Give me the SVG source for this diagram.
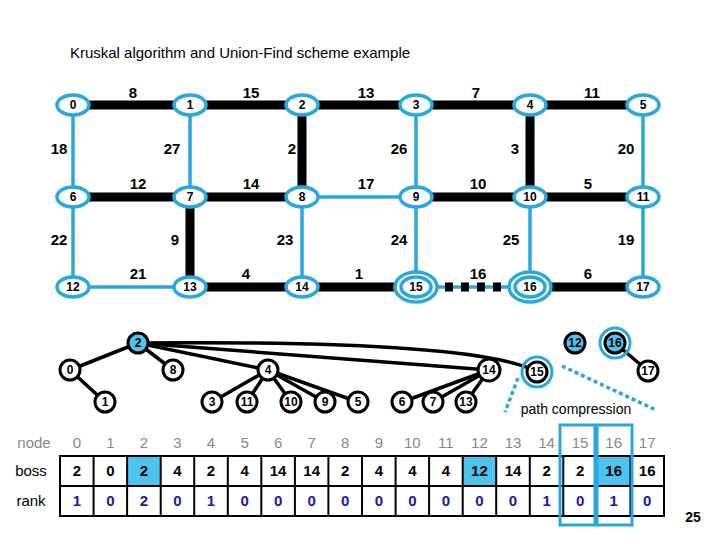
<svg xmlns="http://www.w3.org/2000/svg" width="720" height="540" viewBox="0 0 720 540">
<style>
text{font-family:"Liberation Sans",Arial,sans-serif;font-weight:bold;text-anchor:middle}
.gn{fill:#fff;stroke:#29a8df;stroke-width:3.5}
.gt{font-size:12px;fill:#000}
.w{font-size:15px;fill:#000}
.bk{stroke:#000;stroke-width:9;fill:none}
.bl{stroke:#29a8df;stroke-width:3.5;fill:none}
.tn{fill:#fff;stroke:#000;stroke-width:3}
.tt{font-size:12px}
.te{stroke:#000;stroke-width:3.5;fill:none}
.hd{font-size:15px;fill:#888;font-weight:normal}
.cell{fill:#fff;stroke:#000;stroke-width:2}
.bv{font-size:15px;fill:#000}
.rv{font-size:15px;fill:#1a1aa0}
</style>
<rect width="720" height="540" fill="#fff"/>
<text x="240" y="58" style="font-size:15px;font-weight:normal">Kruskal algorithm and Union-Find scheme example</text>
<g id="connectors">
<line class="bk" x1="73" y1="105" x2="190" y2="105"/>
<line class="bk" x1="190" y1="105" x2="302" y2="105"/>
<line class="bk" x1="302" y1="105" x2="416" y2="105"/>
<line class="bk" x1="416" y1="105" x2="530" y2="105"/>
<line class="bk" x1="530" y1="105" x2="643" y2="105"/>
<line class="bk" x1="302" y1="105" x2="302" y2="197"/>
<line class="bk" x1="530" y1="105" x2="530" y2="197"/>
<line class="bk" x1="73" y1="197" x2="190" y2="197"/>
<line class="bk" x1="190" y1="197" x2="302" y2="197"/>
<line class="bk" x1="416" y1="197" x2="530" y2="197"/>
<line class="bk" x1="530" y1="197" x2="643" y2="197"/>
<line class="bk" x1="190" y1="197" x2="190" y2="287"/>
<line class="bk" x1="190" y1="287" x2="302" y2="287"/>
<line class="bk" x1="302" y1="287" x2="416" y2="287"/>
<line class="bk" x1="530" y1="287" x2="643" y2="287"/>
<line class="bl" x1="73" y1="105" x2="73" y2="287"/>
<line class="bl" x1="190" y1="105" x2="190" y2="197"/>
<line class="bl" x1="416" y1="105" x2="416" y2="287"/>
<line class="bl" x1="643" y1="105" x2="643" y2="287"/>
<line class="bl" x1="302" y1="197" x2="416" y2="197"/>
<line class="bl" x1="302" y1="197" x2="302" y2="287"/>
<line class="bl" x1="530" y1="197" x2="530" y2="287"/>
<line class="bl" x1="73" y1="287" x2="190" y2="287"/>
<line class="bl" x1="416" y1="287" x2="530" y2="287"/>
<line x1="445" y1="287" x2="505" y2="287" stroke="#000" stroke-width="9" stroke-dasharray="8,8"/>
<line class="te" x1="138" y1="343" x2="70" y2="370"/>
<line class="te" x1="138" y1="343" x2="173" y2="370"/>
<line class="te" x1="70" y1="370" x2="105" y2="402"/>
<line class="te" x1="138" y1="343" x2="268" y2="370"/>
<line class="te" x1="138" y1="343" x2="489" y2="370"/>
<path class="te" d="M138 343 Q480 340 537 372"/>
<line class="te" x1="268" y1="370" x2="212" y2="402"/>
<line class="te" x1="268" y1="370" x2="247" y2="402"/>
<line class="te" x1="268" y1="370" x2="291" y2="402"/>
<line class="te" x1="268" y1="370" x2="325" y2="402"/>
<line class="te" x1="268" y1="370" x2="358" y2="402"/>
<line class="te" x1="489" y1="370" x2="402" y2="402"/>
<line class="te" x1="489" y1="370" x2="433" y2="402"/>
<line class="te" x1="489" y1="370" x2="466" y2="402"/>
<line class="te" x1="615" y1="343" x2="648" y2="371"/>
<line x1="518" y1="378" x2="505" y2="412" stroke="#29a8df" stroke-width="3.5" stroke-dasharray="4,3"/>
<line x1="562" y1="366" x2="656" y2="410" stroke="#29a8df" stroke-width="3.5" stroke-dasharray="4,3"/>
</g>
<g class="w">
<text class="w" x="133" y="98">8</text><text class="w" x="251" y="98">15</text><text class="w" x="366" y="98">13</text><text class="w" x="476" y="98">7</text><text class="w" x="592" y="98">11</text>
<text class="w" x="59" y="154">18</text><text class="w" x="172" y="154">27</text><text class="w" x="292" y="154">2</text><text class="w" x="399" y="154">26</text><text class="w" x="515" y="154">3</text><text class="w" x="626" y="154">20</text>
<text class="w" x="138" y="189">12</text><text class="w" x="251" y="189">14</text><text class="w" x="366" y="189">17</text><text class="w" x="478" y="189">10</text><text class="w" x="588" y="189">5</text>
<text class="w" x="59" y="245">22</text><text class="w" x="175" y="245">9</text><text class="w" x="285" y="245">23</text><text class="w" x="399" y="245">24</text><text class="w" x="511" y="245">25</text><text class="w" x="626" y="245">19</text>
<text class="w" x="138" y="279">21</text><text class="w" x="246" y="279">4</text><text class="w" x="359" y="279">1</text><text class="w" x="478" y="279">16</text><text class="w" x="588" y="279">6</text>
</g>
<g id="g0"><ellipse class="gn" cx="73" cy="105" rx="16" ry="10"/><text class="gt" x="73" y="109">0</text></g>
<g id="g1"><ellipse class="gn" cx="190" cy="105" rx="16" ry="10"/><text class="gt" x="190" y="109">1</text></g>
<g id="g2"><ellipse class="gn" cx="302" cy="105" rx="16" ry="10"/><text class="gt" x="302" y="109">2</text></g>
<g id="g3"><ellipse class="gn" cx="416" cy="105" rx="16" ry="10"/><text class="gt" x="416" y="109">3</text></g>
<g id="g4"><ellipse class="gn" cx="530" cy="105" rx="16" ry="10"/><text class="gt" x="530" y="109">4</text></g>
<g id="g5"><ellipse class="gn" cx="643" cy="105" rx="16" ry="10"/><text class="gt" x="643" y="109">5</text></g>
<g id="g6"><ellipse class="gn" cx="73" cy="197" rx="16" ry="10"/><text class="gt" x="73" y="201">6</text></g>
<g id="g7"><ellipse class="gn" cx="190" cy="197" rx="16" ry="10"/><text class="gt" x="190" y="201">7</text></g>
<g id="g8"><ellipse class="gn" cx="302" cy="197" rx="16" ry="10"/><text class="gt" x="302" y="201">8</text></g>
<g id="g9"><ellipse class="gn" cx="416" cy="197" rx="16" ry="10"/><text class="gt" x="416" y="201">9</text></g>
<g id="g10"><ellipse class="gn" cx="530" cy="197" rx="16" ry="10"/><text class="gt" x="530" y="201">10</text></g>
<g id="g11"><ellipse class="gn" cx="643" cy="197" rx="16" ry="10"/><text class="gt" x="643" y="201">11</text></g>
<g id="g12"><ellipse class="gn" cx="73" cy="287" rx="16" ry="10"/><text class="gt" x="73" y="291">12</text></g>
<g id="g13"><ellipse class="gn" cx="190" cy="287" rx="16" ry="10"/><text class="gt" x="190" y="291">13</text></g>
<g id="g14"><ellipse class="gn" cx="302" cy="287" rx="16" ry="10"/><text class="gt" x="302" y="291">14</text></g>
<g id="g15"><ellipse class="gn" cx="416" cy="287" rx="21" ry="15"/><ellipse class="gn" cx="416" cy="287" rx="15" ry="10"/><text class="gt" x="416" y="291">15</text></g>
<g id="g16"><ellipse class="gn" cx="530" cy="287" rx="21" ry="15"/><ellipse class="gn" cx="530" cy="287" rx="15" ry="10"/><text class="gt" x="530" y="291">16</text></g>
<g id="g17"><ellipse class="gn" cx="643" cy="287" rx="16" ry="10"/><text class="gt" x="643" y="291">17</text></g>
<g id="t2"><circle class="tn" cx="138" cy="343" r="10" fill="#4fc3f0" style="fill:#4fc3f0"/><text class="tt" x="138" y="347">2</text></g>
<g id="t0"><circle class="tn" cx="70" cy="370" r="10"/><text class="tt" x="70" y="374">0</text></g>
<g id="t8"><circle class="tn" cx="173" cy="370" r="10"/><text class="tt" x="173" y="374">8</text></g>
<g id="t1"><circle class="tn" cx="105" cy="402" r="10"/><text class="tt" x="105" y="406">1</text></g>
<g id="t4"><circle class="tn" cx="268" cy="370" r="10"/><text class="tt" x="268" y="374">4</text></g>
<g id="t14"><circle class="tn" cx="489" cy="370" r="11"/><text class="tt" x="489" y="374">14</text></g>
<g id="t15"><circle cx="537" cy="372" r="15" fill="none" stroke="#29a8df" stroke-width="3"/><circle class="tn" cx="537" cy="372" r="10"/><text class="tt" x="537" y="376">15</text></g>
<g id="t12"><circle class="tn" cx="575" cy="343" r="10" style="fill:#4fc3f0"/><text class="tt" x="575" y="347">12</text></g>
<g id="t16"><circle cx="615" cy="343" r="15" fill="none" stroke="#29a8df" stroke-width="3"/><circle class="tn" cx="615" cy="343" r="10" style="fill:#4fc3f0"/><text class="tt" x="615" y="347">16</text></g>
<g id="t17"><circle class="tn" cx="648" cy="371" r="10"/><text class="tt" x="648" y="375">17</text></g>
<g id="t3"><circle class="tn" cx="212" cy="402" r="10"/><text class="tt" x="212" y="406">3</text></g>
<g id="t11"><circle class="tn" cx="247" cy="402" r="10"/><text class="tt" x="247" y="406">11</text></g>
<g id="t10"><circle class="tn" cx="291" cy="402" r="10"/><text class="tt" x="291" y="406">10</text></g>
<g id="t9"><circle class="tn" cx="325" cy="402" r="10"/><text class="tt" x="325" y="406">9</text></g>
<g id="t5"><circle class="tn" cx="358" cy="402" r="10"/><text class="tt" x="358" y="406">5</text></g>
<g id="t6"><circle class="tn" cx="402" cy="402" r="10"/><text class="tt" x="402" y="406">6</text></g>
<g id="t7"><circle class="tn" cx="433" cy="402" r="10"/><text class="tt" x="433" y="406">7</text></g>
<g id="t13"><circle class="tn" cx="466" cy="402" r="10"/><text class="tt" x="466" y="406">13</text></g>
<text x="576" y="414" style="font-size:14px;font-weight:normal">path compression</text>
<g id="table">
<text class="hd" x="34" y="448">node</text>
<text class="bv" x="31" y="476" style="font-weight:normal">boss</text>
<text class="bv" x="31" y="506" style="font-weight:normal">rank</text>
<rect x="60" y="456" width="604" height="60" class="cell"/>
<rect x="127" y="457" width="33" height="28" fill="#4fc3f0"/>
<rect x="463" y="457" width="33" height="28" fill="#4fc3f0"/>
<rect x="597" y="457" width="33" height="28" fill="#4fc3f0"/>
<line x1="60" y1="486" x2="664" y2="486" stroke="#000" stroke-width="2"/>
<path stroke="#000" stroke-width="2" d="M93.6 456V516M127.1 456V516M160.7 456V516M194.2 456V516M227.8 456V516M261.3 456V516M294.9 456V516M328.4 456V516M362 456V516M395.6 456V516M429.1 456V516M462.7 456V516M496.2 456V516M529.8 456V516M563.3 456V516M596.9 456V516M630.4 456V516"/>
<g class="hd">
<text class="hd" x="76.8" y="448">0</text><text class="hd" x="110.3" y="448">1</text><text class="hd" x="143.9" y="448">2</text><text class="hd" x="177.4" y="448">3</text><text class="hd" x="211" y="448">4</text><text class="hd" x="244.6" y="448">5</text><text class="hd" x="278.1" y="448">6</text><text class="hd" x="311.7" y="448">7</text><text class="hd" x="345.2" y="448">8</text><text class="hd" x="378.8" y="448">9</text><text class="hd" x="412.3" y="448">10</text><text class="hd" x="445.9" y="448">11</text><text class="hd" x="479.4" y="448">12</text><text class="hd" x="513" y="448">13</text><text class="hd" x="546.6" y="448">14</text><text class="hd" x="580.1" y="448">15</text><text class="hd" x="613.7" y="448">16</text><text class="hd" x="647.2" y="448">17</text>
</g>
<text class="bv" x="76.8" y="476">2</text><text class="bv" x="110.3" y="476">0</text><text class="bv" x="143.9" y="476">2</text><text class="bv" x="177.4" y="476">4</text><text class="bv" x="211" y="476">2</text><text class="bv" x="244.6" y="476">4</text><text class="bv" x="278.1" y="476">14</text><text class="bv" x="311.7" y="476">14</text><text class="bv" x="345.2" y="476">2</text><text class="bv" x="378.8" y="476">4</text><text class="bv" x="412.3" y="476">4</text><text class="bv" x="445.9" y="476">4</text><text class="bv" x="479.4" y="476">12</text><text class="bv" x="513" y="476">14</text><text class="bv" x="546.6" y="476">2</text><text class="bv" x="580.1" y="476">2</text><text class="bv" x="613.7" y="476">16</text><text class="bv" x="647.2" y="476">16</text>
<text class="rv" x="76.8" y="506">1</text><text class="rv" x="110.3" y="506">0</text><text class="rv" x="143.9" y="506">2</text><text class="rv" x="177.4" y="506">0</text><text class="rv" x="211" y="506">1</text><text class="rv" x="244.6" y="506">0</text><text class="rv" x="278.1" y="506">0</text><text class="rv" x="311.7" y="506">0</text><text class="rv" x="345.2" y="506">0</text><text class="rv" x="378.8" y="506">0</text><text class="rv" x="412.3" y="506">0</text><text class="rv" x="445.9" y="506">0</text><text class="rv" x="479.4" y="506">0</text><text class="rv" x="513" y="506">0</text><text class="rv" x="546.6" y="506">1</text><text class="rv" x="580.1" y="506">0</text><text class="rv" x="613.7" y="506">1</text><text class="rv" x="647.2" y="506">0</text>
<rect x="560" y="425" width="35" height="100" fill="none" stroke="#29a8df" stroke-width="3"/>
<rect x="597" y="425" width="35" height="100" fill="none" stroke="#29a8df" stroke-width="3"/>
</g>
<text x="693" y="522" style="font-size:14px">25</text>
</svg>
